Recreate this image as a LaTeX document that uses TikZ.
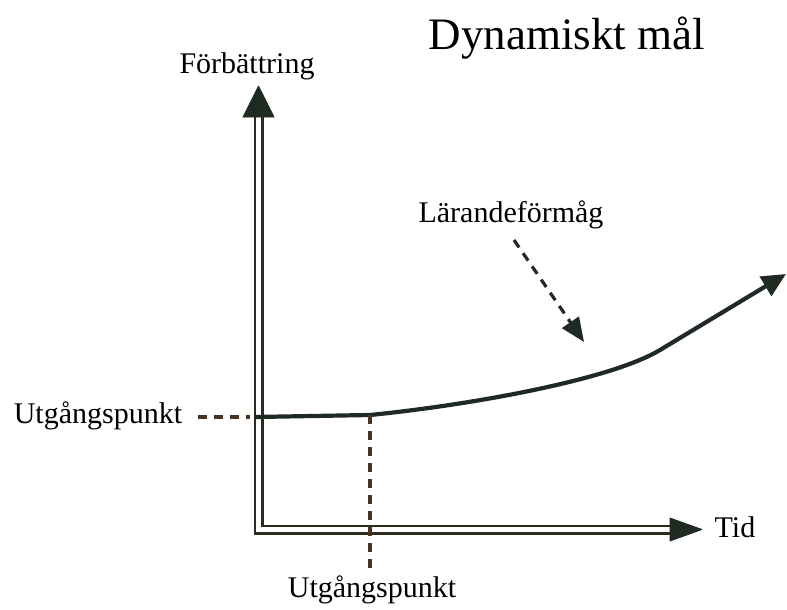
\documentclass[tikz,border=0pt]{standalone}
\usepackage{fontspec}
\setmainfont{Liberation Serif}
\usetikzlibrary{arrows.meta}
\definecolor{ink}{HTML}{2E2A1C}
\definecolor{headc}{HTML}{1F2A22}
\definecolor{dashc}{HTML}{4A3320}
\tikzset{
  lbl/.style={font=\rmfamily\fontsize{30}{32}\selectfont, inner sep=0pt},
  axis/.style={draw=ink, line width=2.8pt, double=white, double distance=4.4pt},
  head/.style={fill=headc, draw=headc, line width=0.8pt, line join=round},
  curve/.style={draw=ink, line width=4.2pt, -{Triangle[length=24pt,width=22pt]}, headc},
  guide/.style={draw=dashc, line width=3.2pt, dash pattern=on 9pt off 7pt},
}
\begin{document}
\begin{tikzpicture}[x=1pt,y=-1pt]
\useasboundingbox (0,0) rectangle (787,610);
% labels
\node[lbl, font=\rmfamily\fontsize{45}{48}\selectfont] (title) at (567,38) {Dynamiskt mål};
\node[lbl] (ylab) at (247,66) {Förbättring};
\node[lbl] (xlab) at (735,527) {Tid};
\node[lbl] (learn) at (511,215) {Lärandeförmåg};
\node[lbl] (startl) at (98,416) {Utgångspunkt};
\node[lbl] (startb) at (372,590) {Utgångspunkt};
% axes
\coordinate (ytop) at (258.5,114);
\coordinate (origin) at (258.5,529.5);
\coordinate (xend) at (672,529.5);
\draw[axis] (ytop) -- (origin) -- (xend);
\coordinate (ytip) at (258.5,86);
\coordinate (xtip) at (702,529.5);
\path[head] (ytip) -- (243,117) -- (274,117) -- cycle;
\path[head] (xtip) -- (670,518) -- (670,541) -- cycle;
% curve
\coordinate (c0) at (255,417);
\coordinate (c1) at (370,415);
\coordinate (cend) at (786,274);
\draw[curve] (c0) -- (c1) .. controls (470,405) and (610,380) .. (660,350) -- (cend);
% dashed guides
\coordinate (dl) at (198,417);
\coordinate (dr) at (250,417);
\draw[guide] (dl) -- (dr);
\coordinate (db) at (370,572);
\draw[guide] (c1) -- (db);
\coordinate (as) at (514,240);
\coordinate (ae) at (584,342);
\draw[guide, -{Triangle[length=24pt,width=20pt]}, headc] (as) -- (ae);
\end{tikzpicture}
\end{document}
